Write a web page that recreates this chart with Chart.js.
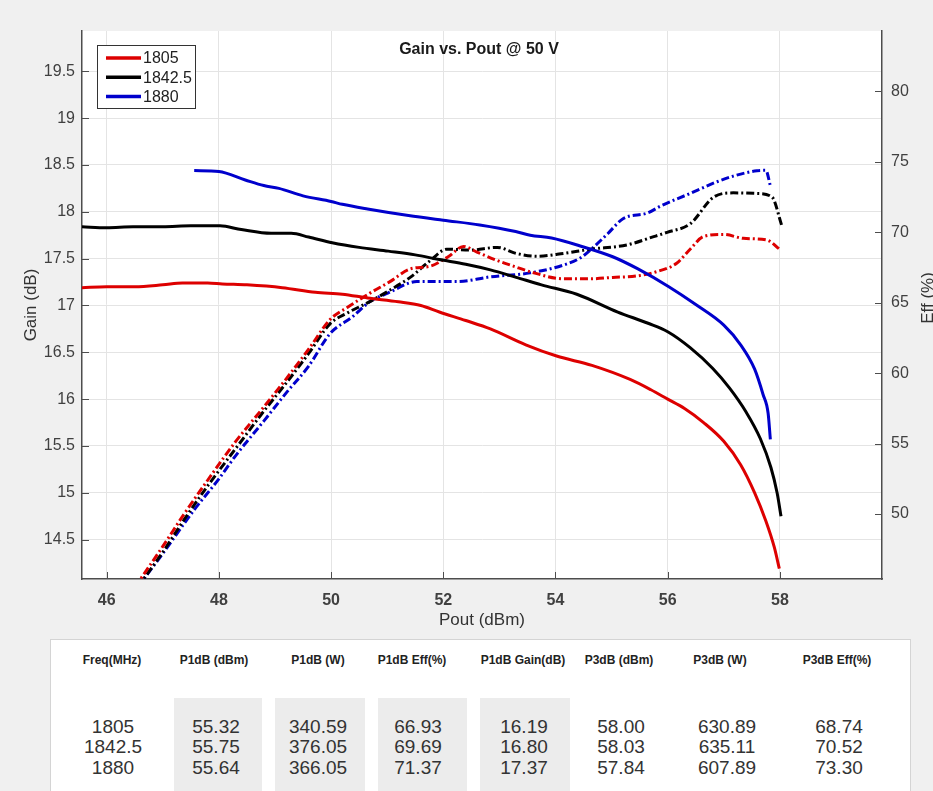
<!DOCTYPE html>
<html>
<head>
<meta charset="utf-8">
<script src="https://cdn.jsdelivr.net/npm/chart.js@4.4.1/dist/chart.umd.min.js"></script>
<style>
  html, body { margin:0; padding:0; background:#f0f0f0; width:933px; height:791px; overflow:hidden; font-family:'Liberation Sans', Arial, sans-serif; }
  #wrap { position:absolute; left:0; top:0; width:933px; height:635px; }
  #tbl { position:absolute; left:50px; top:639px; width:861px; height:160px; background:#fff; border:1px solid #d4d4d4; box-sizing:border-box; }
  .shade { position:absolute; top:698px; height:100px; background:#ececec; }
  .hdr { position:absolute; top:653px; width:120px; margin-left:-60px; text-align:center; font-weight:bold; font-size:12px; color:#222; white-space:nowrap; }
  .col { position:absolute; top:716.75px; width:120px; margin-left:-60px; text-align:center; font-size:19px; line-height:20.5px; color:#333; white-space:nowrap; }
</style>
</head>
<body>
<div id="wrap"><canvas id="c" width="933" height="635"></canvas></div>
<div id="tbl"></div>
<div id="tableLayer"></div>
<script>
// ---------- data ----------
const seriesLabels = ['1805', '1842.5', '1880'];
const xTicks = [46, 48, 50, 52, 54, 56, 58];
const gainTicks = [14.5, 15, 15.5, 16, 16.5, 17, 17.5, 18, 18.5, 19, 19.5];
const effTicks = [50, 55, 60, 65, 70, 75, 80];

// Gain (dB) vs Pout (dBm)
const gain1805_pout = [45.56, 46.0, 46.5, 47.0, 47.35, 47.8, 48.06, 48.5, 49.13, 49.72, 50.2, 50.65, 51.2, 51.6, 51.93, 52.4, 52.84, 53.47, 54.02, 54.65, 55.33, 55.7, 56.0, 56.3, 56.64, 57.0, 57.3, 57.55, 57.75, 57.9, 57.99];
const gain1805 =      [17.19, 17.20, 17.20, 17.22, 17.24, 17.24, 17.23, 17.22, 17.19, 17.14, 17.12, 17.08, 17.04, 17.00, 16.93, 16.84, 16.75, 16.58, 16.46, 16.36, 16.21, 16.10, 16.00, 15.90, 15.75, 15.55, 15.30, 15.00, 14.70, 14.42, 14.19];

const gain1842_pout = [45.56, 46.0, 46.47, 47.0, 47.5, 48.02, 48.4, 48.93, 49.29, 49.6, 50.02, 50.5, 51.02, 51.5, 51.93, 52.4, 52.84, 53.3, 53.75, 54.38, 55.11, 55.65, 56.0, 56.4, 56.8, 57.1, 57.4, 57.65, 57.84, 57.95, 58.02];
const gain1842 =      [17.84, 17.83, 17.84, 17.84, 17.85, 17.85, 17.81, 17.77, 17.77, 17.73, 17.67, 17.62, 17.58, 17.54, 17.49, 17.44, 17.38, 17.30, 17.22, 17.12, 16.93, 16.81, 16.72, 16.55, 16.33, 16.12, 15.86, 15.58, 15.27, 15.00, 14.75];

const gain1880_pout = [47.56, 48.0, 48.47, 48.8, 49.07, 49.5, 50.0, 50.2, 50.65, 51.38, 52.0, 52.65, 53.29, 53.55, 53.93, 54.47, 55.02, 55.47, 56.02, 56.5, 57.0, 57.3, 57.55, 57.7, 57.79, 57.83];
const gain1880 =      [18.44, 18.43, 18.34, 18.28, 18.25, 18.17, 18.11, 18.08, 18.03, 17.96, 17.91, 17.86, 17.79, 17.75, 17.72, 17.63, 17.52, 17.39, 17.20, 17.01, 16.79, 16.58, 16.32, 16.05, 15.85, 15.57];

// Efficiency (%) vs Pout (dBm)
const eff1805_pout = [46.5, 47.0, 47.38, 47.8, 48.29, 48.8, 49.2, 49.6, 49.98, 50.3, 50.70, 51.05, 51.41, 51.77, 52.1, 52.36, 52.6, 52.96, 53.25, 53.55, 54.14, 54.62, 55.02, 55.45, 55.8, 56.16, 56.4, 56.64, 57.0, 57.35, 57.77, 58.0];
const eff1805 =      [44.8, 47.7, 50.0, 52.4, 55.1, 57.6, 59.6, 61.7, 63.8, 64.7, 65.7, 66.5, 67.4, 67.6, 68.3, 69.0, 68.6, 68.0, 67.6, 67.2, 66.7, 66.7, 66.8, 66.9, 67.2, 67.8, 68.8, 69.7, 69.85, 69.57, 69.45, 68.79];

const eff1842_pout = [46.55, 47.0, 47.38, 47.8, 48.29, 48.8, 49.2, 49.6, 49.98, 50.3, 50.70, 51.05, 51.41, 51.77, 52.06, 52.48, 52.96, 53.3, 53.67, 54.14, 54.62, 55.27, 55.75, 55.99, 56.40, 56.82, 57.17, 57.59, 57.86, 58.03];
const eff1842 =      [44.8, 47.3, 49.6, 52.0, 54.6, 57.3, 59.3, 61.4, 63.5, 64.3, 65.1, 65.9, 66.8, 68.0, 68.8, 68.74, 68.93, 68.5, 68.3, 68.5, 68.8, 69.1, 69.69, 70.0, 70.6, 72.5, 72.8, 72.76, 72.5, 70.52];

const eff1880_pout = [46.55, 47.0, 47.56, 48.0, 48.29, 48.8, 49.2, 49.6, 49.98, 50.38, 50.70, 51.02, 51.53, 52.0, 52.24, 52.84, 53.55, 54.14, 54.45, 54.62, 54.93, 55.21, 55.64, 55.87, 56.40, 56.88, 57.17, 57.59, 57.75, 57.83];
const eff1880 =      [44.8, 47.2, 50.3, 52.5, 54.1, 56.6, 58.6, 60.5, 62.8, 64.0, 65.1, 65.7, 66.5, 66.5, 66.5, 66.84, 67.12, 67.67, 68.2, 68.74, 69.9, 70.98, 71.37, 71.86, 72.76, 73.59, 73.99, 74.37, 74.4, 73.3];

// Table
const tableHeaders = ['Freq(MHz)', 'P1dB (dBm)', 'P1dB (W)', 'P1dB Eff(%)', 'P1dB Gain(dB)', 'P3dB (dBm)', 'P3dB (W)', 'P3dB Eff(%)'];
const colFreq = ['1805', '1842.5', '1880'];
const colP1dBdBm = ['55.32', '55.75', '55.64'];
const colP1dBW = ['340.59', '376.05', '366.05'];
const colP1dBEff = ['66.93', '69.69', '71.37'];
const colP1dBGain = ['16.19', '16.80', '17.37'];
const colP3dBdBm = ['58.00', '58.03', '57.84'];
const colP3dBW = ['630.89', '635.11', '607.89'];
const colP3dBEff = ['68.74', '70.52', '73.30'];

// ---------- table ----------
(function buildTable(){
  const layer = document.getElementById('tableLayer');
  const shades = [[174, 262], [275, 365], [378, 467], [480, 570]];
  shades.forEach(([a, b]) => {
    const d = document.createElement('div');
    d.className = 'shade'; d.style.left = a + 'px'; d.style.width = (b - a) + 'px';
    layer.appendChild(d);
  });
  const hdrX = [112, 214, 318, 412, 523, 619, 720, 837];
  const colX = [113, 216, 318, 418, 524, 621, 727, 839];
  const cols = [colFreq, colP1dBdBm, colP1dBW, colP1dBEff, colP1dBGain, colP3dBdBm, colP3dBW, colP3dBEff];
  tableHeaders.forEach((h, i) => {
    const d = document.createElement('div');
    d.className = 'hdr'; d.style.left = hdrX[i] + 'px'; d.textContent = h;
    layer.appendChild(d);
  });
  cols.forEach((c, i) => {
    const d = document.createElement('div');
    d.className = 'col'; d.style.left = colX[i] + 'px';
    d.innerHTML = c.join('<br>');
    layer.appendChild(d);
  });
})();

// ---------- chart ----------
const FONT = "'Liberation Sans', Arial, sans-serif";
Chart.defaults.font.family = FONT;
const RED = '#dd0000', BLACK = '#000000', BLUE = '#0000cc';
const colors = [RED, BLACK, BLUE];
const toPts = (xs, ys) => xs.map((x, i) => ({x: x, y: ys[i]}));

const gainSets = [[gain1805_pout, gain1805], [gain1842_pout, gain1842], [gain1880_pout, gain1880]];
const effSets = [[eff1805_pout, eff1805], [eff1842_pout, eff1842], [eff1880_pout, eff1880]];

const datasets = [];
gainSets.forEach((s, i) => datasets.push({
  label: seriesLabels[i], data: toPts(s[0], s[1]), yAxisID: 'y',
  borderColor: colors[i], borderWidth: 3, pointRadius: 0, fill: false,
  cubicInterpolationMode: 'monotone', isGain: true
}));
effSets.forEach((s, i) => datasets.push({
  label: seriesLabels[i] + ' Eff', data: toPts(s[0], s[1]), yAxisID: 'y1',
  borderColor: colors[i], borderWidth: 3, pointRadius: 0, fill: false,
  borderDash: [8, 3, 2, 3], cubicInterpolationMode: 'monotone', isGain: false
}));

const decor = {
  id: 'decor',
  beforeDraw(chart) {
    const {ctx, chartArea: a} = chart;
    ctx.save();
    ctx.fillStyle = '#ffffff';
    ctx.fillRect(a.left, a.top, a.right - a.left, a.bottom - a.top);
    ctx.restore();
  },
  afterDraw(chart) {
    const {ctx, chartArea: a, scales} = chart;
    ctx.save();
    // inward tick marks
    ctx.strokeStyle = '#4d4d4d'; ctx.lineWidth = 1;
    ctx.beginPath();
    scales.x.ticks.forEach(t => {
      const p = Math.round(scales.x.getPixelForValue(t.value)) + 0.5;
      ctx.moveTo(p, a.bottom); ctx.lineTo(p, a.bottom - 7);
    });
    scales.y.ticks.forEach(t => {
      const p = Math.round(scales.y.getPixelForValue(t.value)) + 0.5;
      ctx.moveTo(a.left, p); ctx.lineTo(a.left + 7, p);
    });
    scales.y1.ticks.forEach(t => {
      const p = Math.round(scales.y1.getPixelForValue(t.value)) + 0.5;
      ctx.moveTo(a.right, p); ctx.lineTo(a.right - 7, p);
    });
    ctx.stroke();

    // title
    ctx.fillStyle = '#1a1a1a';
    ctx.font = 'bold 16px ' + FONT;
    ctx.textAlign = 'center'; ctx.textBaseline = 'middle';
    ctx.fillText('Gain vs. Pout @ 50 V', 479, 50);

    // right axis title
    ctx.save();
    ctx.translate(928, 298);
    ctx.rotate(-Math.PI / 2);
    ctx.font = '17px ' + FONT; ctx.fillStyle = '#333';
    ctx.fillText('Eff (%)', 0, 0);
    ctx.restore();

    // legend
    const gains = chart.data.datasets.filter(d => d.isGain);
    ctx.fillStyle = '#ffffff';
    ctx.fillRect(97.5, 45.5, 98, 63);
    ctx.strokeStyle = '#333'; ctx.lineWidth = 1;
    ctx.strokeRect(97.5, 45.5, 98, 63);
    gains.forEach((d, i) => {
      const yy = 58 + i * 19.2;
      ctx.strokeStyle = d.borderColor; ctx.lineWidth = 3.5;
      ctx.beginPath(); ctx.moveTo(106, yy); ctx.lineTo(141, yy); ctx.stroke();
      ctx.fillStyle = '#222'; ctx.font = '16px ' + FONT;
      ctx.textAlign = 'left'; ctx.textBaseline = 'middle';
      ctx.fillText(d.label, 143, yy + 1);
    });
    ctx.restore();
  }
};

new Chart(document.getElementById('c'), {
  type: 'line',
  data: { datasets: datasets },
  plugins: [decor],
  options: {
    responsive: false, animation: false, devicePixelRatio: 1,
    layout: { padding: { top: 31, left: 0, right: 0, bottom: 0 } },
    plugins: { legend: { display: false }, title: { display: false }, tooltip: { enabled: false } },
    scales: {
      x: {
        type: 'linear', position: 'bottom', min: 45.56, max: 59.82,
        afterBuildTicks: s => { s.ticks = xTicks.map(v => ({value: v})); },
        afterFit: s => { s.height = 56; },
        ticks: { font: { size: 16, weight: 'bold' }, color: '#404040', padding: 12, callback: v => String(v), maxRotation: 0 },
        grid: { color: '#e4e4e4', drawTicks: false },
        border: { color: '#4d4d4d', width: 1.5 },
        title: { display: true, text: 'Pout (dBm)', font: { size: 17 }, color: '#333', padding: { top: 0, bottom: 4 } }
      },
      y: {
        type: 'linear', position: 'left', min: 14.08, max: 19.93,
        afterBuildTicks: s => { s.ticks = gainTicks.map(v => ({value: v})); },
        afterFit: s => { s.width = 82; },
        ticks: { font: { size: 16 }, color: '#404040', padding: 7, callback: v => String(v) },
        grid: { color: '#e4e4e4', drawTicks: false },
        border: { color: '#4d4d4d', width: 1.5 },
        title: { display: true, text: 'Gain (dB)', font: { size: 17 }, color: '#333', padding: { top: 21, bottom: 0 } }
      },
      y1: {
        type: 'linear', position: 'right', min: 45.39, max: 84.29,
        afterBuildTicks: s => { s.ticks = effTicks.map(v => ({value: v})); },
        afterFit: s => { s.width = 51; },
        ticks: { font: { size: 16 }, color: '#404040', padding: 9, callback: v => String(v) },
        grid: { drawOnChartArea: false, drawTicks: false },
        border: { color: '#4d4d4d', width: 1.5 }
      }
    }
  }
});
</script>
</body>
</html>
